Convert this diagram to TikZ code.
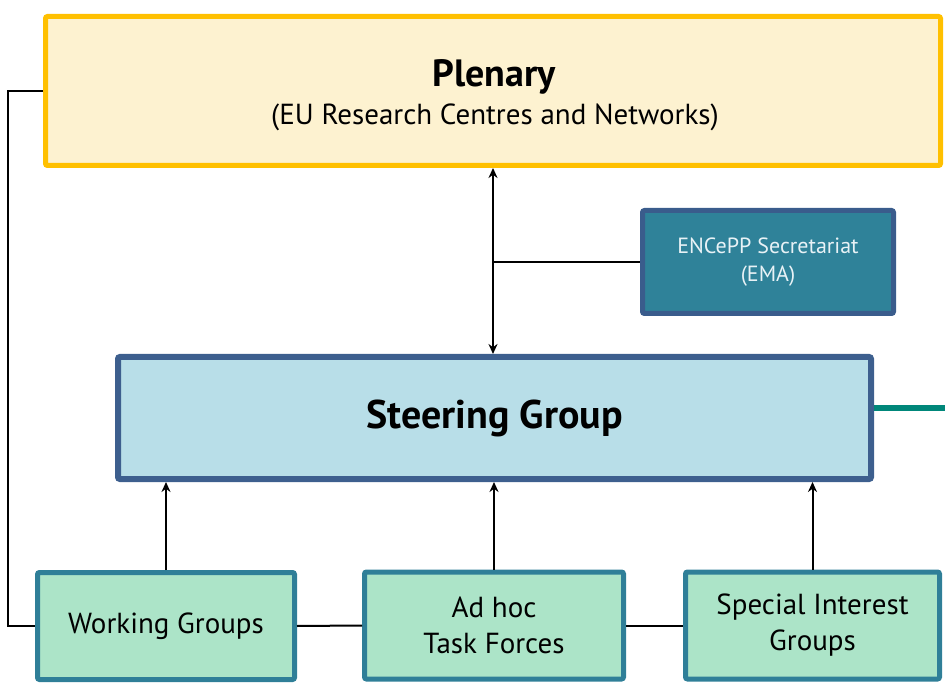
\documentclass[tikz,border=0pt]{standalone}
\usepackage{fontspec}
\setmainfont{PT Sans}
\usetikzlibrary{shadows,arrows.meta}
\definecolor{plenfill}{HTML}{FDF2D0}
\definecolor{plenline}{HTML}{FFC000}
\definecolor{secfill}{HTML}{2F8299}
\definecolor{secline}{HTML}{3A5C8C}
\definecolor{sectext}{HTML}{E8F2F6}
\definecolor{stfill}{HTML}{B8DEE8}
\definecolor{stline}{HTML}{3D5F8E}
\definecolor{grfill}{HTML}{ACE4C8}
\definecolor{grline}{HTML}{2F7F98}
\definecolor{teal}{HTML}{00877A}
\tikzset{
  box/.style={rectangle, rounded corners=2pt, align=center, inner sep=0pt,
    drop shadow={opacity=0.25, shadow xshift=1.5pt, shadow yshift=-1.5pt}},
  plenbox/.style={box, fill=plenfill, draw=plenline, line width=5pt,
    minimum width=895pt, minimum height=149pt},
  secbox/.style={box, fill=secfill, draw=secline, line width=5pt,
    minimum width=251pt, minimum height=103pt, text=sectext, font=\fontsize{22}{28}\selectfont},
  stbox/.style={box, fill=stfill, draw=stline, line width=6pt,
    minimum width=753pt, minimum height=122pt, font=\fontsize{40}{44}\selectfont\bfseries},
  grbox/.style={box, fill=grfill, draw=grline, line width=5pt,
    minimum width=257pt, minimum height=107pt, font=\fontsize{29}{36}\selectfont},
  conn/.style={line width=2pt, black},
  arr/.style={conn, -{Stealth[length=10pt,width=9pt]}},
}
\begin{document}
\begin{tikzpicture}[x=1pt,y=-1pt]
\useasboundingbox (0,0) rectangle (945,684);
\node[plenbox] (plen) at (493,91) {};
\node[font=\fontsize{38}{42}\selectfont\bfseries] (plent) at (494,77) {Plenary};
\node[font=\fontsize{29}{34}\selectfont] (plens) at (495,117) {(EU Research Centres and Networks)};
\node[secbox] (sec) at (768,262) {ENCePP Secretariat\\(EMA)};
\node[stbox] (steer) at (494.5,418) {Steering Group};
\node[grbox] (wg) at (166,626) {Working Groups};
\node[grbox, minimum width=259pt] (adhoc) at (494,625.5) {Ad hoc\\Task Forces};
\node[grbox, minimum width=254pt] (sig) at (812.5,625.5) {Special Interest\\Groups};
\coordinate (tealend) at (945,408);
\coordinate (split) at (sec.west -| plen.south);
% connectors
\draw[conn] (plen.west) -- ++(-35,0) |- (wg.west);
\draw[conn] (wg.east) -- (adhoc.west);
\draw[conn] (adhoc.east) -- (sig.west);
\draw[arr, {Stealth[length=10pt,width=9pt]}-{Stealth[length=10pt,width=9pt]}] (plen.south) -- (plen.south |- steer.north);
\draw[conn] (split) -- (sec.west);
\draw[arr] (wg.north) -- (wg.north |- steer.south);
\draw[arr] (adhoc.north) -- (adhoc.north |- steer.south);
\draw[arr] (sig.north) -- (sig.north |- steer.south);
\draw[teal, line width=5pt] ([yshift=10pt]steer.east) -- (tealend);
\end{tikzpicture}
\end{document}
